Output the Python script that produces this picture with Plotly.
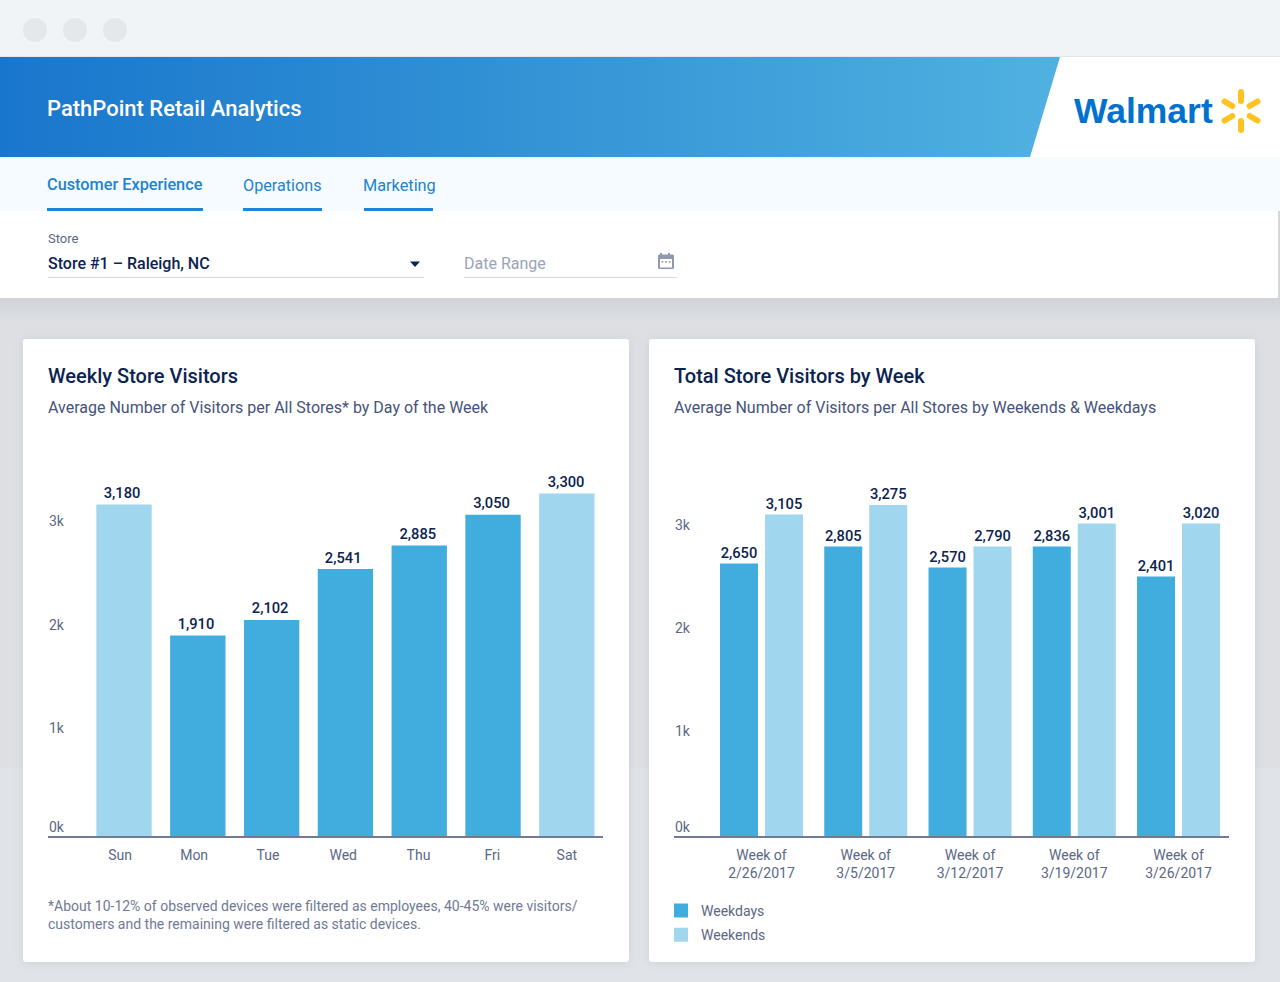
import base64
import plotly.graph_objects as go

# ---------- chart data ----------
days = ["Sun", "Mon", "Tue", "Wed", "Thu", "Fri", "Sat"]
day_bar_heights = [3203, 1937, 2087, 2580, 2806, 3105, 3309]
day_labels = ["3,180", "1,910", "2,102", "2,541", "2,885", "3,050", "3,300"]
day_tick_positions = [-0.054, 0.95, 1.95, 2.97, 3.99, 4.99, 6.0]
day_label_positions = [-0.027, 0.975, 1.98, 2.97, 3.98, 4.98, 5.99]
day_label_heights = [3232, 1966, 2116, 2600, 2835, 3134, 3338]

weeks = ["Week of<br>2/26/2017", "Week of<br>3/5/2017", "Week of<br>3/12/2017",
         "Week of<br>3/19/2017", "Week of<br>3/26/2017"]
weekday_bar_heights = [2623, 2787, 2584, 2787, 2497]
weekend_bar_heights = [3096, 3188, 2787, 3009, 3009]
weekday_labels = ["2,650", "2,805", "2,570", "2,836", "2,401"]
weekend_labels = ["3,105", "3,275", "2,790", "3,001", "3,020"]

y_tick_text = ["0k", "1k", "2k", "3k"]
left_y_tick_positions = [82, 1038, 2034, 3038]
right_y_tick_positions = [82, 1009, 2005, 3000]

DARK = "#41ADDE"
LIGHT = "#A0D6EE"
NAVY = "#0B2350"
SLATE = "#5B6785"
AXIS = "#6F7A96"
W, H = 1280, 982
FONT = "Roboto"

# ---------- page chrome (gradient, shadows, icons) ----------
spokes = ""
for ang in (0, 60, 120, 180, 240, 300):
    spokes += (f'<path d="M1241 101 L1241 92" transform="rotate({ang} 1241 111)" '
               f'stroke="#FFC220" stroke-width="6" stroke-linecap="round" fill="none"/>')

svg = f'''<svg xmlns="http://www.w3.org/2000/svg" width="{W}" height="{H}" viewBox="0 0 {W} {H}">
<defs>
<linearGradient id="g" x1="0" y1="0" x2="1" y2="0">
<stop offset="0" stop-color="#1976CD"/><stop offset="0.5" stop-color="#3393D5"/><stop offset="1" stop-color="#50B1E1"/>
</linearGradient>
<linearGradient id="s" x1="0" y1="0" x2="0" y2="1">
<stop offset="0" stop-color="#CFD2D6"/><stop offset="1" stop-color="#DDDFE3"/>
</linearGradient>
<filter id="c" x="-5%" y="-5%" width="110%" height="110%"><feDropShadow dx="0" dy="1" stdDeviation="4" flood-color="#9aa3ad" flood-opacity="0.28"/></filter>
</defs>
<rect width="{W}" height="{H}" fill="#DDDFE3"/>
<rect y="768" width="{W}" height="214" fill="#E0E3E7"/>
<rect y="298" width="{W}" height="22" fill="url(#s)"/>
<rect width="{W}" height="57" fill="#F0F4F7"/>
<rect y="56" width="{W}" height="1" fill="#E3E7EB"/>
<ellipse cx="35" cy="30" rx="12" ry="12" fill="#E4E8EB"/>
<ellipse cx="75" cy="30" rx="12" ry="12" fill="#E4E8EB"/>
<ellipse cx="115" cy="30" rx="12" ry="12" fill="#E4E8EB"/>
<rect y="57" width="{W}" height="100" fill="#FFFFFF"/>
<path d="M0 57 H1060 L1030 157 H0 Z" fill="url(#g)"/>
<rect y="157" width="{W}" height="54" fill="#F5FBFE"/>
<rect x="47" y="208" width="156" height="3" fill="#2283D0"/>
<rect x="243" y="208" width="79" height="3" fill="#2283D0"/>
<rect x="364" y="208" width="69" height="3" fill="#2283D0"/>
<rect y="211" width="1278" height="87" fill="#FFFFFF"/>
<rect x="1278" y="211" width="2" height="87" fill="#D3D6DA"/>
<rect x="48" y="277" width="376" height="1" fill="#D3D8E3"/>
<rect x="464" y="277" width="213" height="1" fill="#D3D8E3"/>
<path d="M410 261.5 H420 L415 267 Z" fill="#0B2350"/>
<g transform="translate(0 -1)">
<path d="M660 254 h2 v1.5 h6 v-1.5 h2 v1.5 h2.5 a1.5 1.5 0 0 1 1.5 1.5 v11.5 a1.5 1.5 0 0 1 -1.5 1.5 h-13 a1.5 1.5 0 0 1 -1.5 -1.5 v-11.5 a1.5 1.5 0 0 1 1.5 -1.5 h0.5 Z" fill="#8E98AE"/>
<rect x="660" y="260" width="12" height="8.5" fill="#FFFFFF"/>
<rect x="661.6" y="262" width="1.6" height="1.6" fill="#8E98AE"/>
<rect x="665.2" y="262" width="1.6" height="1.6" fill="#8E98AE"/>
<rect x="668.8" y="262" width="1.6" height="1.6" fill="#8E98AE"/>
</g>
{spokes}
<rect x="23" y="339" width="606" height="623" rx="3" fill="#FFFFFF" filter="url(#c)"/>
<rect x="649" y="339" width="606" height="623" rx="3" fill="#FFFFFF" filter="url(#c)"/>
</svg>'''
chrome = "data:image/svg+xml;base64," + base64.b64encode(svg.encode()).decode()

# ---------- page text: (x px, y px, text, size, colour, weight) ----------
texts = [
    (47, 108.5, "PathPoint Retail Analytics", 22, "#FFFFFF", 500),
    (47, 184.5, "Customer Experience", 16.3, "#2283D0", 500),
    (243, 185.5, "Operations", 16.2, "#2283D0", 400),
    (363, 185.5, "Marketing", 16.3, "#2283D0", 400),
    (48, 238.5, "Store", 13, "#5B6785", 400),
    (48, 263.5, "Store #1 – Raleigh, NC", 16, NAVY, 500),
    (464, 263.5, "Date Range", 16, "#9AA3B8", 400),
    (48, 376, "Weekly Store Visitors", 20, NAVY, 500),
    (48, 407.5, "Average Number of Visitors per All Stores* by Day of the Week", 16, "#46537A", 400),
    (674, 376, "Total Store Visitors by Week", 20, NAVY, 500),
    (674, 407.5, "Average Number of Visitors per All Stores by Weekends & Weekdays", 16, "#46537A", 400),
    (48, 906, "*About 10-12% of observed devices were filtered as employees, 40-45% were visitors/", 14, AXIS, 400),
    (48, 924, "customers and the remaining were filtered as static devices.", 14, AXIS, 400),
]
annotations = [
    dict(x=x / W, y=1 - y / H, xref="paper", yref="paper", text=t, showarrow=False,
         xanchor="left", yanchor="middle", borderpad=0, borderwidth=0,
         font=dict(family=FONT, size=s, color=c, weight=wt))
    for x, y, t, s, c, wt in texts
]
annotations.append(dict(x=1073 / W, y=1 - 111 / H, xref="paper", yref="paper", text="Walmart",
                        showarrow=False, xanchor="left", yanchor="middle", borderpad=0,
                        font=dict(family="Liberation Sans", size=35.5, color="#0071CE", weight=700)))

# ---------- traces ----------
fig = go.Figure()
bar_text = dict(family=FONT, size=14.7, color=NAVY, weight=500)
fig.add_trace(go.Bar(
    x=list(range(len(days))), y=day_bar_heights,
    marker=dict(color=[LIGHT, DARK, DARK, DARK, DARK, DARK, LIGHT], line_width=0),
    width=0.75, showlegend=False, xaxis="x", yaxis="y", hoverinfo="skip"))
fig.add_trace(go.Scatter(
    x=day_label_positions, y=day_label_heights, mode="text", text=day_labels,
    textposition="top center", textfont=bar_text, cliponaxis=False,
    showlegend=False, xaxis="x", yaxis="y", hoverinfo="skip"))
fig.add_trace(go.Bar(
    x=weeks, y=weekday_bar_heights, name="Weekdays", text=weekday_labels, textposition="outside",
    textangle=0, constraintext="none", cliponaxis=False, textfont=bar_text, legendgroup="a",
    marker=dict(color=DARK, line=dict(width=2, color=DARK)), xaxis="x2", yaxis="y2", hoverinfo="skip"))
fig.add_trace(go.Bar(
    x=weeks, y=weekend_bar_heights, name="Weekends", text=weekend_labels, textposition="outside",
    textangle=0, constraintext="none", cliponaxis=False, textfont=bar_text, legendgroup="b",
    marker=dict(color=LIGHT, line=dict(width=2, color=LIGHT)), xaxis="x2", yaxis="y2", hoverinfo="skip"))

# ---------- axes ----------
PX_PER_UNIT = 0.1035
Y_BASE, Y_TOP = 836, 470
y_domain = [1 - Y_BASE / H, 1 - Y_TOP / H]
y_max = (Y_BASE - Y_TOP) / PX_PER_UNIT
tick_font = dict(family=FONT, size=14, color=SLATE)

def xaxis(dom, rng, **kw):
    return dict(domain=[dom[0] / W, dom[1] / W], range=rng, showgrid=False, zeroline=False,
                showline=True, linecolor=AXIS, linewidth=2, ticks="", ticklen=0, ticklabelstandoff=5,
                tickfont=tick_font, anchor=kw.pop("anchor"), fixedrange=True, **kw)

def yaxis(anchor, vals):
    return dict(domain=y_domain, range=[0, y_max], anchor=anchor, showgrid=False, zeroline=False,
                showline=False, ticks="", tickmode="array", tickvals=vals, ticktext=y_tick_text,
                ticklabelposition="inside", ticklabelstandoff=-2, tickfont=tick_font, fixedrange=True)

fig.update_layout(
    width=W, height=H, margin=dict(l=0, r=0, t=0, b=0, pad=0, autoexpand=False),
    paper_bgcolor="rgba(0,0,0,0)", plot_bgcolor="rgba(0,0,0,0)",
    barmode="group", bargap=0.137, bargroupgap=0.2,
    font=dict(family=FONT),
    xaxis=xaxis((48, 603), [-1.03, 6.49], anchor="y", tickmode="array",
                tickvals=day_tick_positions, ticktext=days),
    yaxis=yaxis("x", left_y_tick_positions),
    xaxis2=xaxis((674, 1229), [-0.839, 4.484], anchor="y2", type="category"),
    yaxis2=yaxis("x2", right_y_tick_positions),
    legend=dict(x=661 / W, y=1 - 895 / H, xanchor="left", yanchor="top", orientation="v",
                traceorder="grouped", itemclick=False, itemdoubleclick=False, tracegroupgap=3,
                bgcolor="rgba(0,0,0,0)", font=dict(family=FONT, size=14, color=SLATE),
                itemwidth=30),
    annotations=annotations,
    images=[dict(source=chrome, xref="paper", yref="paper", x=0, y=1, sizex=1, sizey=1,
                 xanchor="left", yanchor="top", sizing="stretch", layer="below")],
)

fig.write_html("out.html", config=dict(displayModeBar=False),
               post_script="document.body.style.margin='0';document.body.style.overflow='hidden';")
